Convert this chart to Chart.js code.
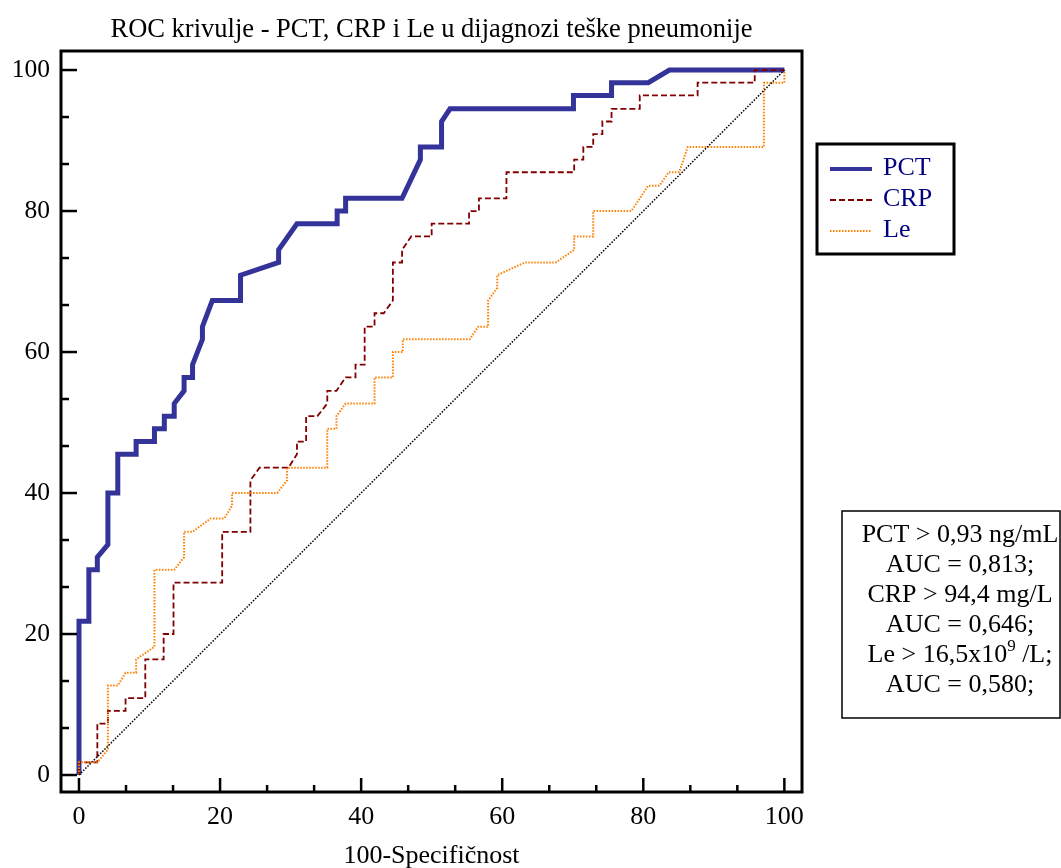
<!DOCTYPE html>
<html>
<head>
<meta charset="utf-8">
<title>ROC krivulje</title>
<script src="https://cdn.jsdelivr.net/npm/chart.js@4"></script>
<style>
  body { margin: 0; background: #fff; }
  canvas { display: block; }
</style>
</head>
<body>
<canvas id="roc" width="1061" height="868"></canvas>
<script>
// ROC curves (100-specificity vs sensitivity, %)

const pctX = [0, 0, 1.4, 1.4, 2.6, 2.6, 4.1, 4.1, 5.5, 5.5, 8.1, 8.1, 10.7, 10.7, 12.1, 12.1, 13.5, 13.5, 14.9, 14.9, 16.1, 16.1, 17.5, 17.5, 18.9, 22.9, 22.9, 28.3, 28.3, 30.9, 36.6, 36.6, 37.8, 37.8, 45.8, 48.4, 48.4, 51.4, 51.4, 52.6, 70.1, 70.1, 75.5, 75.5, 80.7, 83.7, 100]
const pctY = [0, 21.8, 21.8, 29.1, 29.1, 30.9, 32.7, 40, 40, 45.5, 45.5, 47.3, 47.3, 49.1, 49.1, 50.9, 50.9, 52.7, 54.5, 56.4, 56.4, 58.2, 61.8, 63.6, 67.3, 67.3, 70.9, 72.7, 74.5, 78.2, 78.2, 80, 80, 81.8, 81.8, 87.3, 89.1, 89.1, 92.7, 94.5, 94.5, 96.4, 96.4, 98.2, 98.2, 100, 100]

const crpX = [0, 0, 2.6, 2.6, 4.1, 4.1, 6.6, 6.6, 9.4, 9.4, 12.0, 12.0, 13.4, 13.4, 20.3, 20.3, 24.3, 24.3, 25.6, 29.7, 30.9, 30.9, 32.2, 32.2, 33.8, 35.2, 35.2, 36.5, 37.8, 39.2, 39.2, 40.5, 40.5, 41.9, 41.9, 43.2, 44.5, 44.5, 45.8, 45.8, 47.1, 50.0, 50.0, 55.3, 55.3, 56.7, 56.7, 60.6, 60.6, 70.2, 70.2, 71.5, 71.5, 72.9, 72.9, 74.2, 74.2, 75.5, 75.5, 79.5, 79.5, 87.7, 87.7, 95.8, 95.8, 100]
const crpY = [0, 1.8, 1.8, 7.3, 7.3, 9.1, 9.1, 10.9, 10.9, 16.4, 16.4, 20.0, 20.0, 27.3, 27.3, 34.5, 34.5, 41.8, 43.6, 43.6, 45.5, 47.3, 47.3, 50.9, 50.9, 52.7, 54.5, 54.5, 56.4, 56.4, 58.2, 58.2, 63.6, 63.6, 65.5, 65.5, 67.3, 72.7, 72.7, 74.5, 76.4, 76.4, 78.2, 78.2, 80, 80, 81.8, 81.8, 85.5, 85.5, 87.3, 87.3, 89.1, 89.1, 90.9, 90.9, 92.7, 92.7, 94.5, 94.5, 96.4, 96.4, 98.2, 98.2, 100, 100]

const leX = [0, 0, 2.6, 4.1, 4.1, 5.5, 6.6, 8.1, 8.1, 10.7, 10.7, 13.5, 14.9, 14.9, 16.1, 18.7, 20.6, 21.7, 21.7, 28.1, 29.5, 29.5, 35.2, 35.2, 36.5, 36.5, 37.8, 41.9, 41.9, 44.5, 44.5, 45.9, 45.9, 55.4, 56.6, 58.0, 58.0, 59.3, 59.3, 63.2, 67.6, 70.2, 70.2, 72.9, 72.9, 78.3, 80.7, 82.3, 83.6, 85.1, 86.3, 97.1, 97.1, 100, 100]
const leY = [0, 1.8, 1.8, 3.6, 12.7, 12.7, 14.5, 14.5, 16.4, 18.2, 29.1, 29.1, 30.9, 34.5, 34.5, 36.4, 36.4, 38.2, 40, 40, 41.8, 43.6, 43.6, 49.1, 49.1, 50.9, 52.7, 52.7, 56.4, 56.4, 60, 60, 61.8, 61.8, 63.6, 63.6, 67.3, 69.1, 70.9, 72.7, 72.7, 74.5, 76.4, 76.4, 80, 80, 83.6, 83.6, 85.5, 85.5, 89.1, 89.1, 98.2, 98.2, 100]

const refX = [0, 100]
const refY = [0, 100]

const tickValues = [0, 20, 40, 60, 80, 100]

const aucLines = [
    ['PCT > 0,93 ng/mL'],
    ['AUC = 0,813;'],
    ['CRP > 94,4 mg/L'],
    ['AUC = 0,646;'],
    ['Le > 16,5x10', '9', ' /L;'],
    ['AUC = 0,580;']
]

const serif = "'Liberation Serif', 'Times New Roman', serif"

function toPoints(xs, ys) {
    return xs.map((x, i) => ({ x: x, y: ys[i] }))
}

// frame, inward tick marks, legend and the AUC box
const extras = {
    id: 'extras',
    afterDraw(chart) {
        const ctx = chart.ctx
        const a = chart.chartArea
        const sx = chart.scales.x
        const sy = chart.scales.y
        ctx.save()

        ctx.strokeStyle = '#000'
        ctx.lineWidth = 3
        ctx.setLineDash([])
        ctx.strokeRect(a.left, a.top, a.right - a.left, a.bottom - a.top)

        ctx.lineWidth = 2.5
        for (let i = 0; i <= 15; i++) {
            const v = i * 20 / 3
            const major = i % 3 === 0
            const px = sx.getPixelForValue(v)
            ctx.beginPath()
            ctx.moveTo(px, a.bottom)
            ctx.lineTo(px, a.bottom - (major ? 14 : 7))
            ctx.stroke()
            const py = sy.getPixelForValue(v)
            ctx.beginPath()
            ctx.moveTo(a.left, py)
            ctx.lineTo(a.left + (major ? 16 : 8), py)
            ctx.stroke()
        }

        // legend
        ctx.lineWidth = 3
        ctx.strokeRect(817, 144, 137, 110)
        const sets = chart.data.datasets.filter(d => d.label)
        ctx.font = '26px ' + serif
        ctx.textAlign = 'left'
        ctx.textBaseline = 'alphabetic'
        sets.forEach((d, i) => {
            const base = 175 + i * 31
            ctx.strokeStyle = d.borderColor
            ctx.lineWidth = Math.min(d.borderWidth, 4)
            ctx.setLineDash(d.borderDash || [])
            ctx.beginPath()
            ctx.moveTo(830, base - 6)
            ctx.lineTo(872, base - 6)
            ctx.stroke()
            ctx.fillStyle = '#000080'
            ctx.fillText(d.label, 883, base)
        })
        ctx.setLineDash([])

        // AUC box
        ctx.strokeStyle = '#000'
        ctx.lineWidth = 1.5
        ctx.strokeRect(842, 511, 218, 207)
        ctx.fillStyle = '#000'
        const big = '26px ' + serif
        const small = '17px ' + serif
        aucLines.forEach((parts, i) => {
            const base = 542 + i * 30
            const fonts = parts.map((p, j) => j === 1 ? small : big)
            let total = 0
            const widths = parts.map((p, j) => {
                ctx.font = fonts[j]
                const w = ctx.measureText(p).width
                total += w
                return w
            })
            let x = 960 - total / 2
            parts.forEach((p, j) => {
                ctx.font = fonts[j]
                ctx.fillText(p, x, j === 1 ? base - 11 : base)
                x += widths[j]
            })
        })
        ctx.restore()
    }
}

const ctx = document.getElementById('roc').getContext('2d')
const rocChart = new Chart(ctx, {
    type: 'line',
    data: {
        datasets: [{
            label: 'PCT',
            data: toPoints(pctX, pctY),
            borderColor: '#333399',
            borderWidth: 5,
            order: 3
        }, {
            label: 'CRP',
            data: toPoints(crpX, crpY),
            borderColor: '#800000',
            borderWidth: 1.8,
            borderDash: [6, 3],
            order: 2
        }, {
            label: 'Le',
            data: toPoints(leX, leY),
            borderColor: '#ff8000',
            borderWidth: 2,
            borderDash: [1.5, 1.5],
            order: 1
        }, {
            label: '',
            data: toPoints(refX, refY),
            borderColor: '#000',
            borderWidth: 1.5,
            borderDash: [1.5, 1.5],
            order: 0
        }]
    },
    options: {
        responsive: false,
        animation: false,
        layout: { padding: { left: 0, right: 259, top: 0, bottom: 0 } },
        elements: {
            point: { radius: 0 },
            line: { tension: 0, fill: false }
        },
        plugins: {
            legend: { display: false },
            tooltip: { enabled: false },
            title: {
                display: true,
                fullSize: false,
                text: 'ROC krivulje - PCT, CRP i Le u dijagnozi teške pneumonije',
                color: '#000',
                font: { family: serif, size: 26.5, weight: 'normal' },
                padding: { top: 14, bottom: 5.2 }
            }
        },
        scales: {
            x: {
                type: 'linear',
                min: -2.55,
                max: 102.5,
                afterBuildTicks: s => { s.ticks = tickValues.map(v => ({ value: v })) },
                afterFit: s => { s.height = 76 },
                grid: { display: false, drawTicks: false },
                border: { display: false },
                ticks: {
                    color: '#000',
                    padding: 10,
                    maxRotation: 0,
                    font: { family: serif, size: 26 }
                },
                title: {
                    display: true,
                    text: '100-Specifičnost',
                    color: '#000',
                    padding: 0,
                    font: { family: serif, size: 26, lineHeight: 0.9 }
                }
            },
            y: {
                type: 'linear',
                min: -2.41,
                max: 102.7,
                afterBuildTicks: s => { s.ticks = tickValues.map(v => ({ value: v })) },
                afterFit: s => { s.width = 61 },
                grid: { display: false, drawTicks: false },
                border: { display: false },
                ticks: {
                    color: '#000',
                    padding: 11,
                    font: { family: serif, size: 25.5 }
                }
            }
        }
    },
    plugins: [extras]
})
</script>
</body>
</html>
